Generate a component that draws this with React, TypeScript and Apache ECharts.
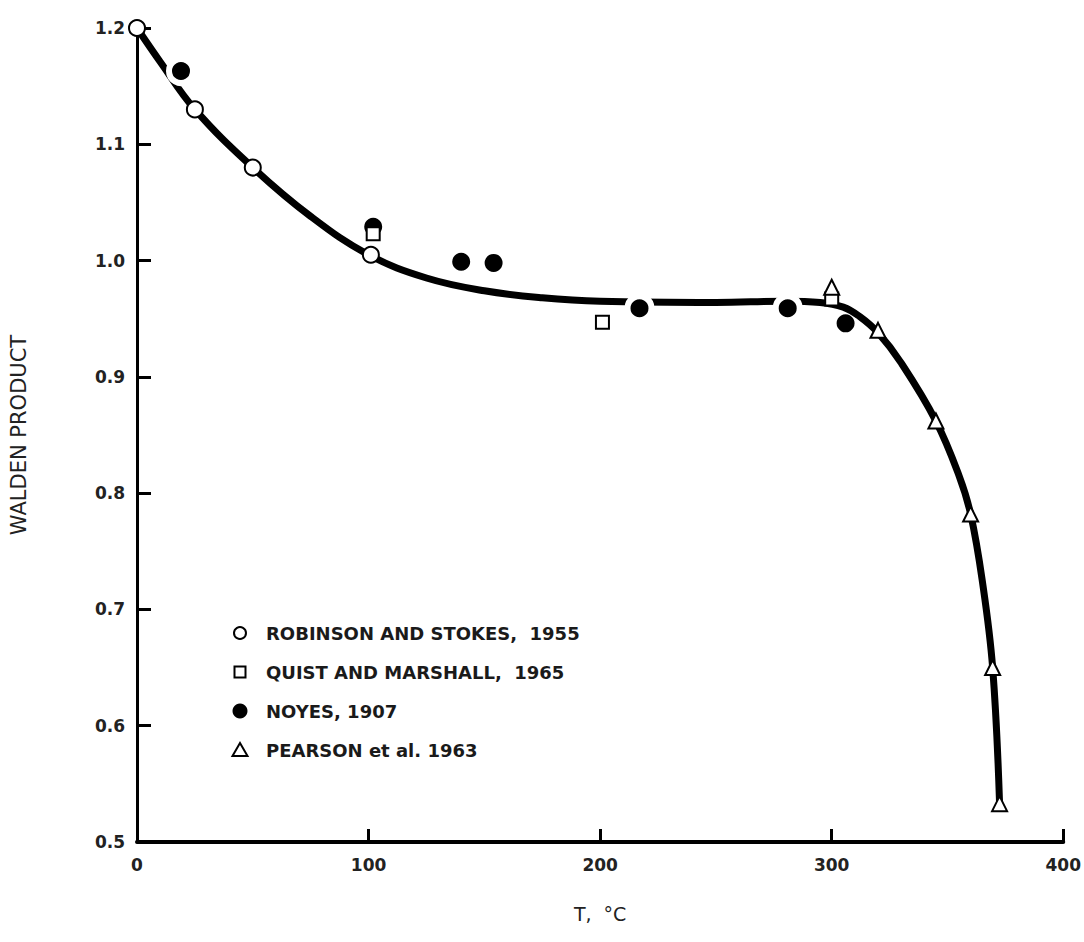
import React, { useEffect, useRef } from "react";
import * as echarts from "echarts";

const xTicks = [0, 100, 200, 300, 400];
const yTicks = [0.5, 0.6, 0.7, 0.8, 0.9, 1.0, 1.1, 1.2];

const robinsonT = [0, 25, 50, 101];
const robinsonV = [1.2, 1.13, 1.08, 1.005];

const quistT = [102, 201, 300];
const quistV = [1.023, 0.947, 0.967];

const noyesT = [19, 102, 140, 154, 217, 281, 306];
const noyesV = [1.163, 1.029, 0.999, 0.998, 0.959, 0.959, 0.946];
// points that sit on the curve and cut a gap in it
const noyesOnCurve = [true, false, false, false, true, true, false];

const pearsonT = [300, 320, 345, 360, 369.5, 372.5];
const pearsonV = [0.977, 0.94, 0.862, 0.782, 0.65, 0.533];

const curveT = [0, 10, 25, 50, 75, 100, 125, 150, 175, 200, 250, 280, 295, 305, 312, 320, 330, 345, 355, 360, 365, 369.5, 372.5];
const curveV = [1.2, 1.171, 1.13, 1.08, 1.038, 1.005, 0.985, 0.974, 0.968, 0.965, 0.964, 0.965, 0.964, 0.96, 0.952, 0.938, 0.912, 0.862, 0.815, 0.782, 0.725, 0.65, 0.533];

const legendLabels = [
  "ROBINSON AND STOKES,  1955",
  "QUIST AND MARSHALL,  1965",
  "NOYES, 1907",
  "PEARSON et al. 1963",
];

const FONT = "DejaVu Sans";

export default function App() {
  const ref = useRef<HTMLDivElement>(null);
  useEffect(() => {
    if (!ref.current) return;
    const chart = echarts.init(ref.current, null, { renderer: "svg" });
    const zip = (a: number[], b: number[]) => a.map((x, i) => [x, b[i]]);
    const lx = 240;
    const tx = 266;
    const rowY = [633, 672, 711, 750];
    const stroke = { stroke: "#000", lineWidth: 2, fill: "#fff" };
    const legendGraphics: any[] = [
      { type: "circle", shape: { cx: lx, cy: rowY[0], r: 6 }, style: stroke },
      { type: "rect", shape: { x: lx - 5.5, y: rowY[1] - 5.5, width: 11, height: 11 }, style: stroke },
      { type: "circle", shape: { cx: lx, cy: rowY[2], r: 7.5 }, style: { fill: "#000" } },
      {
        type: "polygon",
        shape: { points: [[lx, rowY[3] - 7], [lx + 7.5, rowY[3] + 6], [lx - 7.5, rowY[3] + 6]] },
        style: stroke,
      },
      ...legendLabels.map((t, i) => ({
        type: "text",
        x: tx,
        y: rowY[i],
        style: {
          text: t,
          font: `bold 18px "${FONT}"`,
          fill: "#1a1a1a",
          verticalAlign: "middle",
          align: "left",
        },
      })),
    ];
    chart.setOption({
      animation: false,
      backgroundColor: "#ffffff",
      grid: { left: 134, right: 18, top: 28, bottom: 100, containLabel: false },
      graphic: legendGraphics,
      xAxis: {
        type: "value",
        min: 0,
        max: 400,
        interval: 100,
        name: "T,  °C",
        nameLocation: "middle",
        nameGap: 62,
        nameTextStyle: { fontFamily: FONT, fontSize: 19, color: "#222" },
        axisLine: { show: true, onZero: false, lineStyle: { color: "#000", width: 4 } },
        axisTick: { show: true, inside: true, length: 13, lineStyle: { color: "#000", width: 3 } },
        axisLabel: {
          fontFamily: FONT,
          fontSize: 17,
          fontWeight: "bold",
          color: "#222",
          margin: 14,
          formatter: (v: number) => (xTicks.includes(v) ? String(v) : ""),
        },
        splitLine: { show: false },
      },
      yAxis: {
        type: "value",
        min: 0.5,
        max: 1.2,
        interval: 0.1,
        name: "WALDEN PRODUCT",
        nameLocation: "middle",
        nameGap: 108,
        nameRotate: 90,
        nameTextStyle: { fontFamily: FONT, fontSize: 21, color: "#222" },
        axisLine: { show: true, onZero: false, lineStyle: { color: "#000", width: 3 } },
        axisTick: { show: true, inside: true, length: 14, lineStyle: { color: "#000", width: 3 } },
        axisLabel: {
          fontFamily: FONT,
          fontSize: 17,
          fontWeight: "bold",
          color: "#222",
          margin: 12,
          formatter: (v: number) => (yTicks.some((t) => Math.abs(t - v) < 1e-6) ? v.toFixed(1) : ""),
        },
        splitLine: { show: false },
      },
      series: [
        {
          name: "curve",
          type: "line",
          data: zip(curveT, curveV),
          smooth: 0.4,
          showSymbol: false,
          symbol: "none",
          lineStyle: { color: "#000", width: 7, cap: "round" },
          z: 1,
          silent: true,
        },
        {
          name: "NOYES, 1907",
          type: "scatter",
          data: noyesT.map((t, i) =>
            noyesOnCurve[i]
              ? { value: [t, noyesV[i]] }
              : { value: [t, noyesV[i]], symbolSize: 18, itemStyle: { borderWidth: 0 } }
          ),
          symbol: "circle",
          symbolSize: 24,
          itemStyle: { color: "#000", borderColor: "#fff", borderWidth: 6, opacity: 1 },
          z: 2,
        },
        {
          name: "ROBINSON AND STOKES,  1955",
          type: "scatter",
          data: zip(robinsonT, robinsonV),
          symbol: "circle",
          symbolSize: 16,
          itemStyle: { color: "#fff", borderColor: "#000", borderWidth: 2, opacity: 1 },
          z: 3,
        },
        {
          name: "QUIST AND MARSHALL,  1965",
          type: "scatter",
          data: zip(quistT, quistV),
          symbol: "rect",
          symbolSize: 13,
          itemStyle: { color: "#fff", borderColor: "#000", borderWidth: 2, opacity: 1 },
          z: 4,
        },
        {
          name: "PEARSON et al. 1963",
          type: "scatter",
          data: zip(pearsonT, pearsonV),
          symbol: "triangle",
          symbolSize: 15,
          itemStyle: { color: "#fff", borderColor: "#000", borderWidth: 2, opacity: 1 },
          z: 5,
        },
      ],
    });
    return () => chart.dispose();
  }, []);
  return <div ref={ref} style={{ position: "fixed", left: 0, top: 0, width: 1084, height: 942 }} />;
}
